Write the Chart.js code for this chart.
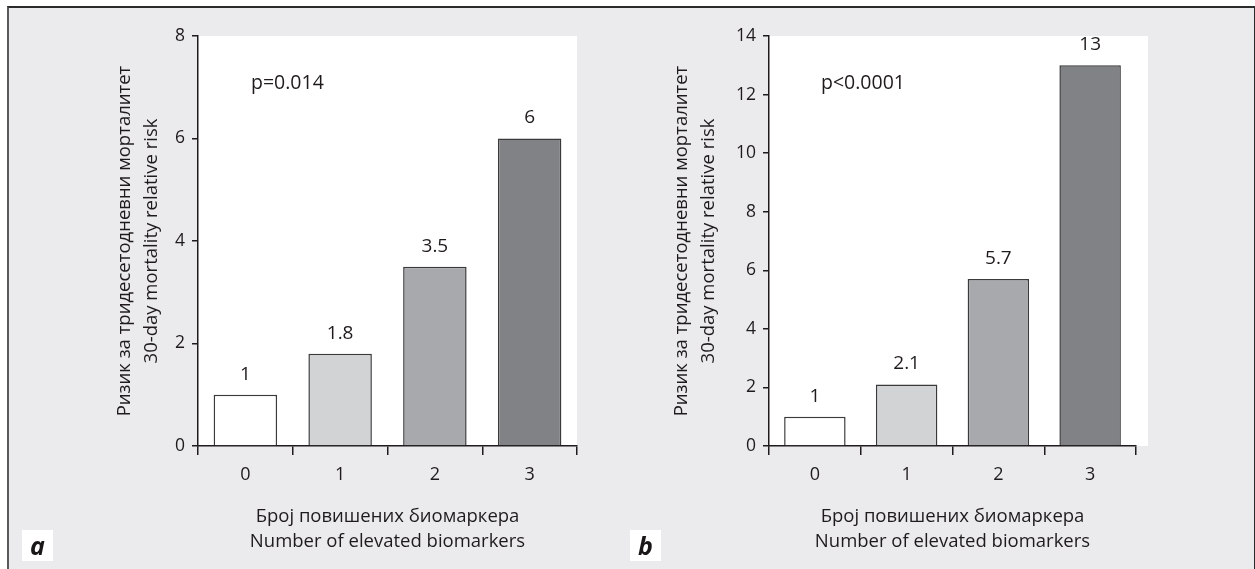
<!DOCTYPE html>
<html lang="sr">
<head>
<meta charset="UTF-8">
<title>Relative risk</title>
<style>
  html, body { margin:0; padding:0; background:#fff; overflow:hidden; }
  .frame { position:absolute; left:7px; top:6px; width:1245px; height:580px; background:#ebebed;
           border-top:2px solid #2b2b2b; border-left:2px solid #5a5a5a; border-right:2px solid #2b2b2b; }
  .chart { position:absolute; top:0; }
  .tag { position:absolute; top:530px; width:31px; height:31px; background:#fff; color:#1a1718;
         font:italic 700 25px 'Open Sans'; line-height:31px; text-align:center; }
</style>
</head>
<body>
<div class="frame"></div>
<canvas id="chartA" class="chart" style="left:0" width="620" height="569"></canvas>
<canvas id="chartB" class="chart" style="left:630px" width="620" height="569"></canvas>
<div class="tag" style="left:22px">a</div>
<div class="tag" style="left:630px">b</div>

<script src="https://cdn.jsdelivr.net/npm/chart.js"></script>
<script>
const categories = ['0', '1', '2', '3'];
const riskA = [1, 1.8, 3.5, 6];
const riskB = [1, 2.1, 5.7, 13];
const yTicksA = [0, 2, 4, 6, 8];
const yTicksB = [0, 2, 4, 6, 8, 10, 12, 14];
const yTitle = ['Ризик за тридесетодневни морталитет', '30-day mortality relative risk'];
const xTitle = ['Број повишених биомаркера', 'Number of elevated biomarkers'];

const ink = '#1f1b1c';
const font = 'Open Sans';

// white plot area, value labels and p-value text
const plotDecor = {
  id: 'plotDecor',
  beforeDraw(chart, args, opts) {
    const a = chart.chartArea, ctx = chart.ctx;
    ctx.save();
    ctx.fillStyle = '#fff';
    ctx.fillRect(a.left, a.top, a.right - a.left + (opts.extraRight || 0), a.bottom - a.top);
    ctx.restore();
  },
  afterDatasetsDraw(chart, args, opts) {
    const ctx = chart.ctx;
    const data = chart.data.datasets[0].data;
    ctx.save();
    ctx.fillStyle = ink;
    ctx.font = '19px ' + font;
    ctx.textAlign = 'center';
    ctx.textBaseline = 'middle';
    chart.getDatasetMeta(0).data.forEach((bar, i) => {
      ctx.fillText(String(data[i]), bar.x, bar.y - 20.5);
    });
    ctx.font = '19.5px ' + font;
    ctx.textAlign = 'left';
    ctx.fillText(opts.pText, chart.chartArea.left + opts.pLeft, chart.scales.y.getPixelForValue(opts.pValue));
    ctx.restore();
  }
};

function makeChart(id, values, yTicks, pad, yWidth, yTitlePad, decor) {
  const yMax = yTicks[yTicks.length - 1];
  return new Chart(document.getElementById(id), {
    type: 'bar',
    data: {
      labels: categories,
      datasets: [{
        data: values,
        backgroundColor: ['#ffffff', '#d1d3d4', '#a7a9ac', '#808285'],
        borderColor: '#3a3a3a',
        borderWidth: 1.5,
        barPercentage: 0.67,
        categoryPercentage: 1
      }]
    },
    options: {
      responsive: false,
      animation: false,
      layout: { padding: pad },
      plugins: { legend: { display: false }, tooltip: { enabled: false }, plotDecor: decor },
      scales: {
        x: {
          grid: { drawOnChartArea: false, tickLength: 9, color: ink, lineWidth: 1.5 },
          border: { color: ink, width: 1.5 },
          ticks: { color: ink, font: { family: font, size: 18 }, padding: 9 },
          title: { display: true, text: xTitle, color: ink,
                   font: { family: font, size: 18.5, lineHeight: '25px' }, padding: { top: 0, bottom: 14.5 } },
          afterFit: s => { s.height = 123; }
        },
        y: {
          min: 0, max: yMax,
          afterBuildTicks: s => { s.ticks = yTicks.map(v => ({ value: v })); },
          grid: { drawOnChartArea: false, tickLength: 6, color: ink, lineWidth: 1.5 },
          border: { color: ink, width: 1.5 },
          ticks: { color: ink, font: { family: font, size: 17.5 }, padding: 7 },
          title: { display: true, text: yTitle, color: ink,
                   font: { family: font, size: 18.5, lineHeight: '27px' }, padding: { top: yTitlePad, bottom: 0 } },
          afterFit: s => { s.width = yWidth; }
        }
      }
    },
    plugins: [plotDecor]
  });
}

// chart a: axis box 198..577
makeChart('chartA', riskA, yTicksA, { left: 100, top: 36, right: 43, bottom: 0 }, 98, 11,
  { pText: 'p=0.014', pLeft: 53, pValue: 7.08, extraRight: 0 });

// chart b: axis box 139..506 inside its canvas, white area runs a bit further right
makeChart('chartB', riskB, yTicksB, { left: 30, top: 36, right: 114, bottom: 0 }, 109, 8.5,
  { pText: 'p<0.0001', pLeft: 52, pValue: 12.38, extraRight: 12 });
</script>
</body>
</html>
